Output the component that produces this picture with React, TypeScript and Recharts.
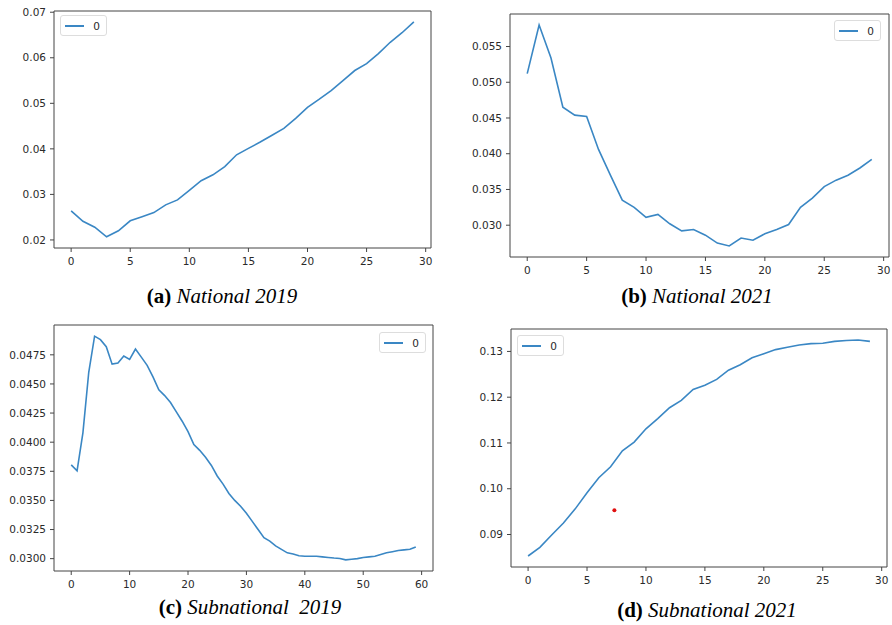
import React from "react";
import { LineChart, Line, XAxis, YAxis, ReferenceArea, ReferenceDot } from "recharts";

// series values, index = x
const national2019 = [
  0.0264, 0.0241, 0.0228, 0.0207, 0.022, 0.0242, 0.0251, 0.026, 0.0277, 0.0288,
  0.0309, 0.033, 0.0343, 0.0361, 0.0387, 0.0401, 0.0415, 0.043, 0.0445, 0.0467,
  0.0491, 0.0509, 0.0528, 0.055, 0.0572, 0.0587, 0.0609, 0.0634, 0.0655, 0.0679,
];
const national2021 = [
  0.0512, 0.058, 0.0534, 0.0465, 0.0454, 0.0452, 0.0406, 0.037, 0.0335, 0.0325,
  0.0311, 0.0315, 0.0302, 0.0292, 0.0294, 0.0286, 0.0275, 0.0271, 0.0282, 0.0279,
  0.0288, 0.0294, 0.0301, 0.0325, 0.0338, 0.0354, 0.0363, 0.037, 0.038, 0.0392,
];
const subnational2019 = [
  0.03805, 0.03754, 0.0408, 0.046, 0.0491, 0.0488, 0.0482, 0.0467, 0.0468, 0.0474,
  0.0471, 0.048, 0.0473, 0.0466, 0.0456, 0.0445, 0.044, 0.0434, 0.0426, 0.0418,
  0.0409, 0.0398, 0.0393, 0.0387, 0.038, 0.0371, 0.0364, 0.0356, 0.035, 0.0345,
  0.0339, 0.0332, 0.0325, 0.0318, 0.0315, 0.0311, 0.0308, 0.0305, 0.0304, 0.03025,
  0.0302, 0.0302, 0.0302, 0.03015, 0.0301, 0.03005, 0.03002, 0.0299, 0.02995, 0.03,
  0.0301, 0.03015, 0.0302, 0.03035, 0.0305, 0.0306, 0.0307, 0.03075, 0.0308, 0.031,
];
const subnational2021 = [
  0.0853, 0.0872, 0.0899, 0.0925, 0.0956, 0.0991, 0.1024, 0.1048, 0.1083, 0.1102,
  0.1131, 0.1153, 0.1177, 0.1193, 0.1217, 0.1226, 0.1239, 0.1259, 0.1271, 0.1286,
  0.1295, 0.1304, 0.1309, 0.1314, 0.1317, 0.1318, 0.1322, 0.1324, 0.1325, 0.1322,
];
const strayDot = { x: 7.32, y: 0.0953 };

const xTicks30 = [0, 5, 10, 15, 20, 25, 30];
const xTicks60 = [0, 10, 20, 30, 40, 50, 60];
const yTicksA = [0.02, 0.03, 0.04, 0.05, 0.06, 0.07];
const yTicksB = [0.03, 0.035, 0.04, 0.045, 0.05, 0.055];
const yTicksC = [0.03, 0.0325, 0.035, 0.0375, 0.04, 0.0425, 0.045, 0.0475];
const yTicksD = [0.09, 0.1, 0.11, 0.12, 0.13];

const LINE = "#3a87c4";
const FRAME = "#444";
const TICK = { fontFamily: "DejaVu Sans", fontSize: 10.5, fill: "#2a2a2a" };
const YW = 60;
const XH = 30;

const toRows = (vals: number[]) => vals.map((v, i) => ({ x: i, y: v }));

const LegendBox = ({ left, top }: { left: number; top: number }) => (
  <div
    style={{
      position: "absolute",
      left,
      top,
      display: "flex",
      alignItems: "center",
      border: "1px solid #ddd",
      borderRadius: 3,
      background: "#fff",
      padding: "3px 6px 3px 4px",
      fontFamily: "DejaVu Sans",
      fontSize: 10.5,
      color: "#2a2a2a",
      width: 35,
      height: 13,
    }}
  >
    <span style={{ display: "inline-block", width: 23, height: 2, background: LINE, marginRight: 9 }} />
    <span>0</span>
  </div>
);

type PanelProps = {
  values: number[];
  frame: { left: number; top: number; right: number; bottom: number };
  xDomain: [number, number];
  yDomain: [number, number];
  xTicks: number[];
  yTicks: number[];
  yFmt: (v: number) => string;
  legendPos: { left: number; top: number };
  dot?: { x: number; y: number };
};

const Panel = ({ values, frame, xDomain, yDomain, xTicks, yTicks, yFmt, legendPos, dot }: PanelProps) => {
  const w = frame.right - frame.left + YW + 5;
  const h = frame.bottom - frame.top + 5 + XH;
  return (
    <>
      <div style={{ position: "absolute", left: frame.left - YW, top: frame.top - 5 }}>
        <LineChart width={w} height={h} data={toRows(values)} margin={{ top: 5, right: 5, left: 0, bottom: 0 }}>
          <XAxis
            type="number"
            dataKey="x"
            domain={xDomain}
            ticks={xTicks}
            allowDataOverflow
            height={XH}
            tick={TICK}
            tickSize={4}
            tickMargin={6}
            tickLine={{ stroke: FRAME }}
            axisLine={false}
          />
          <YAxis
            type="number"
            domain={yDomain}
            ticks={yTicks}
            allowDataOverflow
            width={YW}
            tick={TICK}
            tickSize={4}
            tickMargin={4}
            tickLine={{ stroke: FRAME }}
            axisLine={false}
            tickFormatter={yFmt}
          />
          <ReferenceArea
            x1={xDomain[0]}
            x2={xDomain[1]}
            y1={yDomain[0]}
            y2={yDomain[1]}
            fill="none"
            stroke={FRAME}
            strokeWidth={1}
            ifOverflow="visible"
          />
          <Line type="linear" dataKey="y" stroke={LINE} strokeWidth={1.6} dot={false} isAnimationActive={false} />
          {dot && <ReferenceDot x={dot.x} y={dot.y} r={2} fill="#e01010" stroke="none" />}
        </LineChart>
      </div>
      <LegendBox left={legendPos.left} top={legendPos.top} />
    </>
  );
};

const caption = (label: string, text: string, cx: number, top: number) => (
  <div
    style={{
      position: "absolute",
      left: cx - 150,
      width: 300,
      top,
      textAlign: "center",
      fontFamily: "Liberation Serif",
      fontSize: 21,
      color: "#000",
      whiteSpace: "pre",
    }}
  >
    <b>{label}</b> <i>{text}</i>
  </div>
);

export default function App() {
  return (
    <div style={{ position: "absolute", left: 0, top: 0, width: 892, height: 625, background: "#fff" }}>
      <Panel
        values={national2019}
        frame={{ left: 54, top: 11, right: 431, bottom: 248 }}
        xDomain={[-1.45, 30.45]}
        yDomain={[0.01823, 0.07027]}
        xTicks={xTicks30}
        yTicks={yTicksA}
        yFmt={(v) => v.toFixed(2)}
        legendPos={{ left: 60, top: 15 }}
      />
      <Panel
        values={national2021}
        frame={{ left: 510, top: 14, right: 889, bottom: 257 }}
        xDomain={[-1.45, 30.45]}
        yDomain={[0.02555, 0.05955]}
        xTicks={xTicks30}
        yTicks={yTicksB}
        yFmt={(v) => v.toFixed(3)}
        legendPos={{ left: 834, top: 20 }}
      />
      <Panel
        values={subnational2019}
        frame={{ left: 54, top: 325, right: 433, bottom: 571 }}
        xDomain={[-2.95, 61.95]}
        yDomain={[0.02894, 0.05006]}
        xTicks={xTicks60}
        yTicks={yTicksC}
        yFmt={(v) => v.toFixed(4)}
        legendPos={{ left: 379, top: 332 }}
      />
      <Panel
        values={subnational2021}
        frame={{ left: 511, top: 329, right: 887, bottom: 567 }}
        xDomain={[-1.45, 30.45]}
        yDomain={[0.0829, 0.1349]}
        xTicks={xTicks30}
        yTicks={yTicksD}
        yFmt={(v) => v.toFixed(2)}
        legendPos={{ left: 517, top: 335 }}
        dot={strayDot}
      />
      {caption("(a)", "National 2019", 222, 284)}
      {caption("(b)", "National 2021", 697, 284)}
      {caption("(c)", "Subnational  2019", 250, 595)}
      {caption("(d)", "Subnational 2021", 707, 598)}
    </div>
  );
}
